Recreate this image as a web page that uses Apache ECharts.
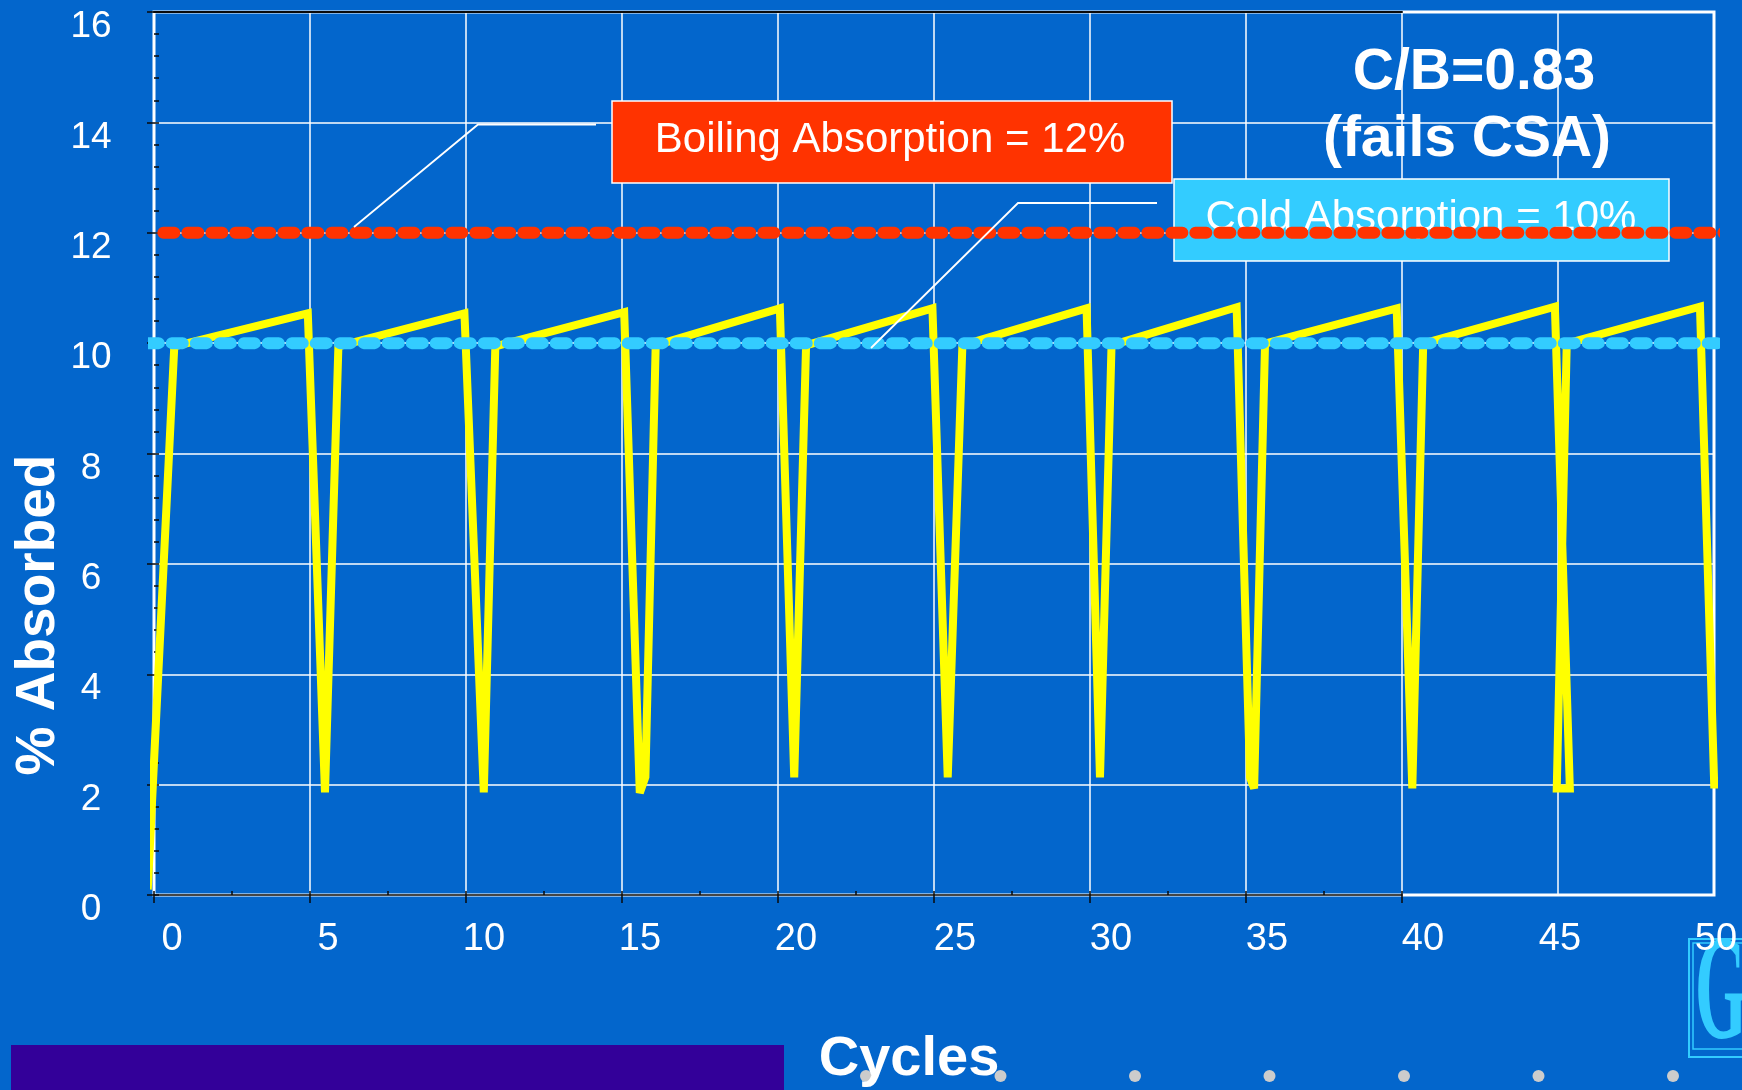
<!DOCTYPE html>
<html>
<head>
<meta charset="utf-8">
<title>% Absorbed vs Cycles</title>
<script src="https://cdn.jsdelivr.net/npm/echarts@6/dist/echarts.min.js"></script>
<style>
  html, body { margin: 0; padding: 0; background: #0366CC; }
  #chart { width: 1742px; height: 1090px; }
</style>
</head>
<body>
<div id="chart"></div>
<script>
// Water absorption (%) measured over repeated cycles: [cycle, % absorbed]
const absorbed = [
  [-0.2, 0.1], [0.65, 9.94], [4.93, 10.54],
  [5.48, 1.86], [5.91, 9.94], [9.95, 10.54],
  [10.57, 1.86], [10.94, 9.94], [15.07, 10.56],
  [15.57, 1.85], [15.75, 2.14], [16.08, 9.96], [20.06, 10.63],
  [20.52, 2.13], [20.90, 9.96], [24.95, 10.63],
  [25.44, 2.13], [25.91, 9.96], [29.89, 10.63],
  [30.32, 2.13], [30.69, 9.96], [34.70, 10.65],
  [35.13, 2.13], [35.26, 1.93], [35.61, 9.99], [39.83, 10.63],
  [40.33, 1.93], [40.68, 9.99], [44.90, 10.66],
  [45.38, 1.93], [44.96, 1.93], [45.28, 9.99], [49.55, 10.66],
  [50.01, 1.93]
];

// Reference levels
const coldLevel = [[-0.2, 10], [50.1, 10]];
const boilingLevel = [[0.3, 12], [50.6, 12]];

// Axis ticks
const xTicks = [0, 5, 10, 15, 20, 25, 30, 35, 40, 45, 50];
const yTicks = [0, 2, 4, 6, 8, 10, 12, 14, 16];

// Texts
const xTitle = 'Cycles';
const yTitle = '% Absorbed';
const boilingText = 'Boiling Absorption = 12%';
const coldText = 'Cold Absorption = 10%';
const ratioLines = ['C/B=0.83', '(fails CSA)'];

const FONT = '"Liberation Sans", Arial, Helvetica, sans-serif';
const WHITE = '#ffffff';
const BLACK = '#0a0a0a';

const xMin = xTicks[0], xMax = xTicks[xTicks.length - 1], xStep = xTicks[1] - xTicks[0];
const yMin = yTicks[0], yMax = yTicks[yTicks.length - 1], yStep = yTicks[1] - yTicks[0];
const tickedMax = 40; // black tick marks run only to cycle 40

const chart = echarts.init(document.getElementById('chart'), null, { renderer: 'canvas' });

const labelRich = (pad) => ({ padding: pad, fontSize: 38, color: WHITE, fontFamily: FONT });

const option = {
  backgroundColor: '#0366CC',
  animation: false,
  grid: [
    { left: 154, right: 28, top: 12, bottom: 195, show: true, borderColor: WHITE, borderWidth: 3,
      backgroundColor: 'transparent', outerBoundsMode: 'none', containLabel: false },
    { left: 154, width: 1248, top: 12, bottom: 195, show: false, outerBoundsMode: 'none', containLabel: false }
  ],
  xAxis: [
    { type: 'value', gridIndex: 0, min: xMin, max: xMax, interval: xStep,
      axisLine: { show: false }, axisTick: { show: false },
      splitLine: { show: true, lineStyle: { color: WHITE, width: 1.5 } },
      axisLabel: {
        margin: 26,
        fontSize: 38, color: WHITE, fontFamily: FONT,
        formatter: v => (v <= 20 ? '{a|' : v <= 40 ? '{b|' : '{c|') + v + '}',
        rich: { a: labelRich([0, 0, 0, 36]), b: labelRich([0, 0, 0, 42]), c: labelRich([0, 0, 0, 4]) }
      } },
    { type: 'value', gridIndex: 1, position: 'bottom', min: xMin, max: tickedMax, interval: xStep,
      axisLine: { show: true, onZero: false, lineStyle: { color: BLACK, width: 1.5 } },
      axisTick: { show: true, inside: false, length: 8, lineStyle: { color: BLACK, width: 1.5 } },
      axisLabel: { show: false }, splitLine: { show: false } },
    { type: 'value', gridIndex: 1, position: 'bottom', offset: 0, min: xMin, max: tickedMax, interval: xStep / 2,
      axisLine: { show: false, onZero: false },
      axisTick: { show: true, inside: true, length: 4, lineStyle: { color: BLACK, width: 1.5 } },
      axisLabel: { show: false }, splitLine: { show: false } },
    { type: 'value', gridIndex: 1, position: 'top', min: xMin, max: tickedMax,
      axisLine: { show: true, onZero: false, lineStyle: { color: BLACK, width: 2 } },
      axisTick: { show: false }, axisLabel: { show: false }, splitLine: { show: false } }
  ],
  yAxis: [
    { type: 'value', gridIndex: 0, min: yMin, max: yMax, interval: yStep,
      axisLine: { show: false }, axisTick: { show: false },
      splitLine: { show: true, lineStyle: { color: WHITE, width: 1.5 } },
      axisLabel: { margin: 63, align: 'center',
        fontSize: 37, color: WHITE, fontFamily: FONT,
        formatter: v => '{p|' + v + '}',
        rich: { p: { padding: [30, 0, 0, 0], fontSize: 37, color: WHITE, fontFamily: FONT } } } },
    { type: 'value', gridIndex: 1, position: 'left', offset: 0, min: yMin, max: yMax, interval: yStep,
      axisLine: { show: false, onZero: false },
      axisTick: { show: true, inside: false, length: 7, lineStyle: { color: BLACK, width: 1.5 } },
      axisLabel: { show: false }, splitLine: { show: false } },
    { type: 'value', gridIndex: 1, position: 'left', offset: 0, min: yMin, max: yMax, interval: yStep / 5,
      axisLine: { show: false, onZero: false },
      axisTick: { show: true, inside: true, length: 5, lineStyle: { color: BLACK, width: 1.5 } },
      axisLabel: { show: false }, splitLine: { show: false } }
  ],
  series: [
    { type: 'line', name: 'Absorbed', xAxisIndex: 0, yAxisIndex: 0, data: absorbed,
      showSymbol: false, symbol: 'none', clip: false, z: 3,
      lineStyle: { color: '#FFFF00', width: 8, join: 'miter', miterLimit: 2 } },
    { type: 'line', name: 'Cold', xAxisIndex: 0, yAxisIndex: 0, data: coldLevel,
      showSymbol: false, symbol: 'none', clip: false, z: 4,
      lineStyle: { color: '#33CCFF', width: 12, type: [11, 13], cap: 'round' } },
    { type: 'line', name: 'Boiling', xAxisIndex: 0, yAxisIndex: 0, data: boilingLevel,
      showSymbol: false, symbol: 'none', clip: false, z: 5,
      lineStyle: { color: '#FF3300', width: 12, type: [11, 13], cap: 'round' } }
  ],
  graphic: [
    // bottom decoration bar
    { type: 'rect', z: 0, shape: { x: 11, y: 1045, width: 773, height: 45 }, style: { fill: '#330099' } },
    // dotted row along the bottom
    ...[0, 1, 2, 3, 4, 5, 6].map(i => ({
      type: 'circle', z: 1, shape: { cx: 866 + i * 134.5, cy: 1076, r: 6 }, style: { fill: '#CCCCCC' }
    })),
    // logo corner
    { type: 'rect', z: -1, shape: { x: 1689, y: 939, width: 70, height: 118 },
      style: { fill: 'none', stroke: '#33CCFF', lineWidth: 2 } },
    { type: 'rect', z: -1, shape: { x: 1693, y: 943, width: 70, height: 106 },
      style: { fill: 'none', stroke: '#33CCFF', lineWidth: 1.5 } },
    { type: 'text', z: -1, x: 1695, y: 1000, scaleX: 0.45, scaleY: 1,
      style: { text: 'G', x: 0, y: 0, fill: '#33CCFF', font: 'bold 148px "Liberation Serif", "Times New Roman", serif',
        align: 'left', verticalAlign: 'middle' } },
    // axis titles
    { type: 'text', z: 2, x: 909, y: 1060,
      style: { text: xTitle, fill: WHITE, font: 'bold 56px ' + FONT, align: 'center', verticalAlign: 'middle' } },
    { type: 'text', z: 2, x: 39, y: 615, rotation: Math.PI / 2,
      style: { text: yTitle, fill: WHITE, font: 'bold 55px ' + FONT, align: 'center', verticalAlign: 'middle' } },
    // ratio annotation
    { type: 'text', z: 10, x: 1474, y: 73,
      style: { text: ratioLines[0], fill: WHITE, font: 'bold 57px ' + FONT, align: 'center', verticalAlign: 'middle' } },
    { type: 'text', z: 10, x: 1467, y: 140,
      style: { text: ratioLines[1], fill: WHITE, font: 'bold 57px ' + FONT, align: 'center', verticalAlign: 'middle' } },
    // boiling callout
    { type: 'rect', z: 10, shape: { x: 612, y: 101, width: 560, height: 82 },
      style: { fill: '#FF3300', stroke: WHITE, lineWidth: 1.5 } },
    { type: 'text', z: 11, x: 890, y: 140,
      style: { text: boilingText, fill: WHITE, font: '42px ' + FONT, align: 'center', verticalAlign: 'middle' } },
    { type: 'polyline', z: 100, shape: { points: [[596, 124.5], [478, 124.5], [354, 227]] },
      style: { stroke: WHITE, lineWidth: 1.8, fill: 'none' } },
    // cold callout (sits beneath the boiling level line)
    { type: 'rect', z: 1, shape: { x: 1174, y: 179, width: 495, height: 82 },
      style: { fill: '#33CCFF', stroke: WHITE, lineWidth: 1.5 } },
    { type: 'text', z: 1, x: 1421, y: 218,
      style: { text: coldText, fill: WHITE, font: '42px ' + FONT, align: 'center', verticalAlign: 'middle' } },
    { type: 'polyline', z: 100, shape: { points: [[1157, 203], [1018, 203], [871, 348]] },
      style: { stroke: WHITE, lineWidth: 1.8, fill: 'none' } }
  ]
};

chart.setOption(option);
</script>
</body>
</html>
